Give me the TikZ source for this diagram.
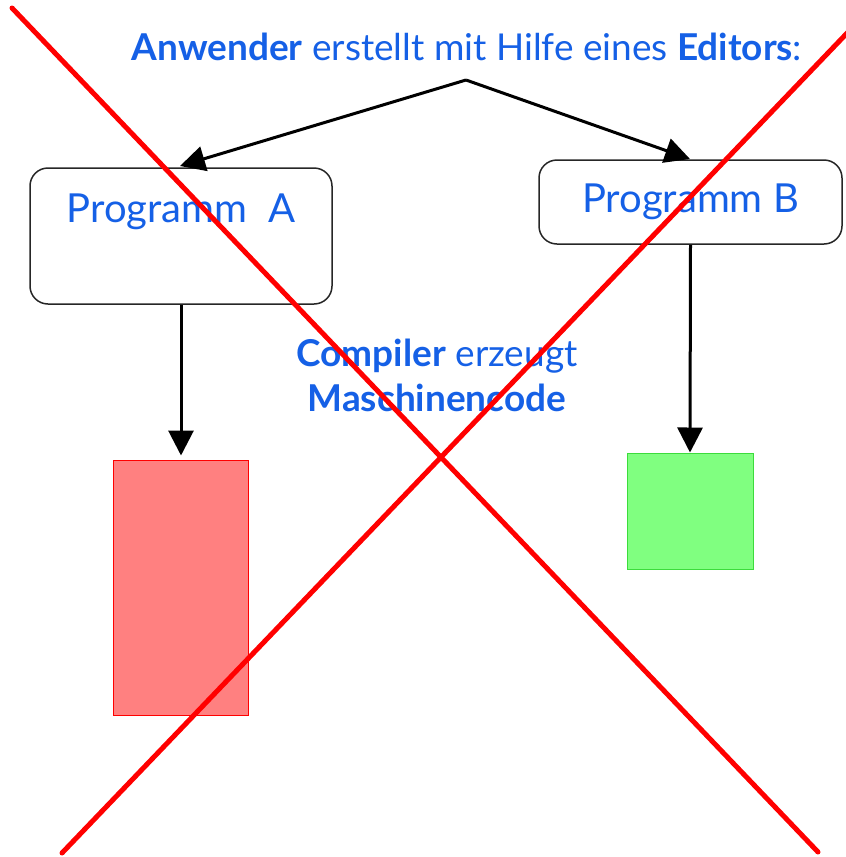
\documentclass[tikz,border=0pt]{standalone}
\usepackage{fontspec}
\setmainfont{Lato}
\usetikzlibrary{arrows.meta}
\definecolor{txtblue}{RGB}{21,96,230}
\definecolor{redfill}{RGB}{255,128,128}
\definecolor{greenfill}{RGB}{128,255,128}
\definecolor{greenedge}{RGB}{60,220,60}
\tikzset{
  lbl/.style={text=txtblue, inner sep=0pt},
  progbox/.style={draw=black!85, line width=1.5pt, rounded corners=18pt, inner sep=0pt},
  flow/.style={line width=3pt, -{Triangle[length=25pt,width=25pt]}},
  cross/.style={red, line width=5pt, line cap=round},
}
\begin{document}
\begin{tikzpicture}[x=1pt,y=-1pt]
  \useasboundingbox (0,0) rectangle (846,857);

  % heading
  \node[lbl, font=\fontsize{37}{40}\selectfont] (head) at (467,47)
    {\textbf{Anwender} erstellt mit Hilfe eines \textbf{Editors}:};
  \coordinate (apex) at (466,80);
  \coordinate (tipa) at (180,166);
  \coordinate (tipb) at (690,159);

  % program boxes
  \node[progbox, minimum width=302pt, minimum height=136pt] (pa) at (181,236) {};
  \node[lbl, font=\fontsize{40}{44}\selectfont] (pat) at (181,212) {Programm\ \ A};
  \node[progbox, minimum width=303pt, minimum height=84pt] (pb) at (690.5,202) {};
  \node[lbl, font=\fontsize{40}{44}\selectfont] (pbt) at (690.5,202) {Programm B};

  % machine code blocks
  \node[draw=red, fill=redfill, line width=1pt, minimum width=135pt, minimum height=255pt, inner sep=0pt] (ca) at (180.5,587.5) {};
  \node[draw=greenedge, fill=greenfill, line width=1pt, minimum width=126pt, minimum height=116pt, inner sep=0pt] (cb) at (690,511) {};

  % compiler label
  \node[lbl, font=\fontsize{37}{45}\selectfont, align=center] (comp) at (437,375)
    {\textbf{Compiler} erzeugt\\\textbf{Maschinencode}};

  % arrows
  \draw[flow] (apex) -- (tipa);
  \draw[flow] (apex) -- (tipb);
  \draw[flow, shorten >=4pt] (pa.south -| 181,0) -- (ca.north -| 181,0);
  \draw[flow] (pb.south) -- (cb.north);

  % crossing-out
  \draw[cross] (12,8) -- (818,852);
  \draw[cross] (62,853) -- (850,30);
\end{tikzpicture}
\end{document}
